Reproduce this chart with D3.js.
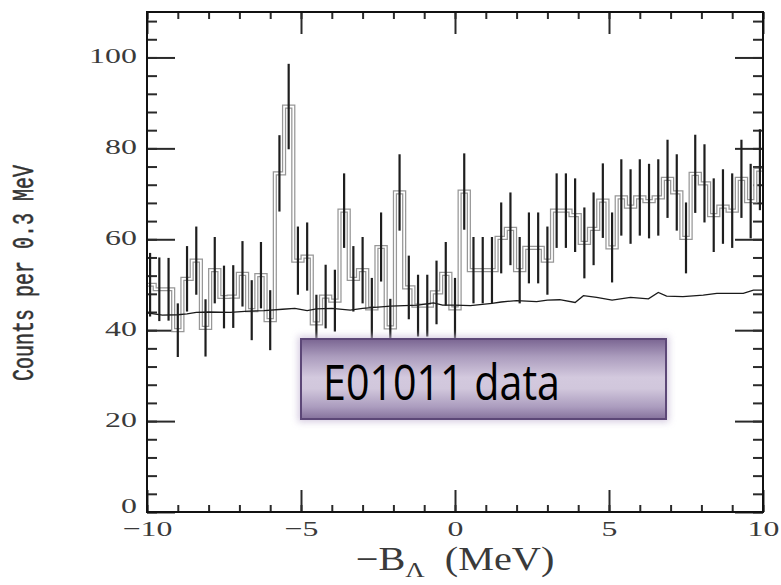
<!DOCTYPE html>
<html>
<head>
<meta charset="utf-8">
<script src="https://cdn.jsdelivr.net/npm/d3@7/dist/d3.min.js"></script>
<style>
  html, body { margin: 0; padding: 0; background: #ffffff; }
  svg { display: block; }
</style>
</head>
<body>
<svg id="chart" width="781" height="585"></svg>
<script>
// Counts per 0.3 MeV bin, bins centred from -9.9 to 9.9 MeV
const binWidth = 0.3;
const firstCenter = -9.9;
const counts = [
  50.0, 49.0, 49.0, 40.0, 51.3, 55.3, 40.5, 53.2, 47.3, 47.4,
  52.4, 44.4, 52.1, 42.2, 74.5, 89.2, 55.3, 56.2, 41.5, 47.4,
  46.5, 66.3, 51.3, 53.2, 44.8, 58.3, 40.6, 70.3, 49.4, 45.4,
  45.4, 48.3, 52.4, 44.8, 70.5, 53.2, 53.2, 53.2, 60.3, 62.3,
  53.2, 58.1, 58.1, 55.3, 66.3, 66.3, 65.3, 59.2, 62.3, 68.5,
  58.2, 69.2, 67.2, 69.2, 68.4, 69.2, 73.3, 70.3, 60.3, 74.4,
  72.3, 65.3, 67.2, 66.3, 73.3, 68.4, 75.3
];
const errors = [
  7.0, 7.0, 6.9, 5.9, 7.2, 7.5, 6.3, 7.3, 6.9, 6.9,
  7.2, 6.6, 7.3, 6.6, 8.4, 9.4, 7.5, 7.5, 6.3, 7.0,
  6.8, 8.2, 7.2, 7.3, 6.7, 7.6, 6.3, 8.4, 7.0, 6.8,
  6.8, 7.0, 7.0, 6.7, 8.4, 7.3, 7.3, 7.3, 7.8, 8.0,
  7.3, 7.8, 7.8, 7.5, 8.2, 8.2, 8.1, 7.8, 8.0, 8.2,
  7.7, 8.4, 8.2, 8.4, 8.2, 8.4, 8.6, 8.4, 7.8, 8.6,
  8.6, 8.1, 8.2, 8.2, 8.6, 8.2, 8.9
];
// Accidental background estimate
const bgX = [-10, -9.5, -9.0, -8.7, -8.4, -8.0, -7.3, -6.7, -6.2, -5.6,
  -5.2, -4.8, -4.5, -4.0, -3.4, -3.0, -2.1, -1.2, -0.7, -0.4,
  0.0, 0.5, 1.2, 1.5, 2.0, 2.65, 3.0, 3.4, 3.9, 4.17,
  4.6, 5.1, 5.7, 6.28, 6.6, 6.87, 7.4, 8.06, 8.5, 9.36, 9.69, 10];
const bgY = [43.8, 43.3, 43.4, 43.6, 43.9, 44.0, 43.9, 44.2, 44.3, 44.6,
  44.8, 44.3, 44.7, 44.8, 44.4, 44.8, 45.3, 45.5, 46.0, 45.5,
  45.5, 45.4, 45.9, 46.2, 46.5, 46.3, 46.6, 46.7, 46.1, 47.6,
  47.2, 46.6, 47.2, 46.9, 48.3, 47.5, 47.4, 47.7, 48.1, 48.1, 48.8, 48.8];

const xTickLabels = [-10, -5, 0, 5, 10];
const xMinorTicks = d3.range(-10, 11, 1);
const yTickLabels = [0, 20, 40, 60, 80, 100];
const yMinorTicks = d3.range(0, 111, 4);
const yTitle = "Counts per 0.3 MeV";
const noteText = "E01011 data";

const svg = d3.select("#chart");
const x = d3.scaleLinear().domain([-10, 10]).range([147, 763]);
const y = d3.scaleLinear().domain([0, 110]).range([512, 12]);
const [x0, x1] = x.range();
const [yb, yt] = y.range();

const bins = counts.map((v, i) => ({
  c: firstCenter + i * binWidth, v: v, e: errors[i]
}));

const defs = svg.append("defs");
defs.append("clipPath").attr("id", "plotClip")
  .append("rect").attr("x", x0).attr("y", yt).attr("width", x1 - x0).attr("height", yb - yt);

const fmt = d => (d < 0 ? "\u2212" + Math.abs(d) : String(d));
const stretch = 1.45;
const labelFont = "'Liberation Serif', 'DejaVu Serif', serif";

// ---- ticks ----
function styleTicks(g, w) {
  g.select(".domain").remove();
  g.selectAll(".tick line").attr("stroke", "#2a2a2a").attr("stroke-width", w);
}
// bottom
svg.append("g").attr("transform", `translate(0,${yb})`)
  .call(d3.axisBottom(x).tickValues(xMinorTicks).tickSizeInner(-7).tickSizeOuter(0).tickFormat(""))
  .call(g => styleTicks(g, 2));
const xAxisG = svg.append("g").attr("transform", `translate(0,${yb})`)
  .call(d3.axisBottom(x).tickValues(xTickLabels).tickSizeInner(-22).tickSizeOuter(0).tickPadding(9).tickFormat(fmt))
  .call(g => styleTicks(g, 2));
xAxisG.selectAll(".tick text")
  .attr("font-family", labelFont)
  .attr("font-size", 21.5).attr("fill", "#3a3a3a")
  .attr("transform", `scale(${stretch * 1.02},1)`);
// top
svg.append("g").attr("transform", `translate(0,${yt})`)
  .call(d3.axisBottom(x).tickValues(xMinorTicks).tickSizeInner(7).tickSizeOuter(0).tickFormat(""))
  .call(g => styleTicks(g, 2));
svg.append("g").attr("transform", `translate(0,${yt})`)
  .call(d3.axisBottom(x).tickValues(xTickLabels).tickSizeInner(22).tickSizeOuter(0).tickFormat(""))
  .call(g => styleTicks(g, 2));
// left
svg.append("g").attr("transform", `translate(${x0},0)`)
  .call(d3.axisLeft(y).tickValues(yMinorTicks).tickSizeInner(-10).tickSizeOuter(0).tickFormat(""))
  .call(g => styleTicks(g, 2));
const yAxisG = svg.append("g").attr("transform", `translate(${x0},0)`)
  .call(d3.axisLeft(y).tickValues(yTickLabels).tickSizeInner(-28).tickSizeOuter(0).tickPadding(7).tickFormat(fmt))
  .call(g => styleTicks(g, 2));
yAxisG.selectAll(".tick text")
  .attr("font-family", labelFont)
  .attr("font-size", 22).attr("fill", "#3a3a3a")
  .attr("dy", d => (d === 0 ? "0.02em" : "0.24em"))
  .attr("transform", `scale(${stretch},1)`);
// right
svg.append("g").attr("transform", `translate(${x1},0)`)
  .call(d3.axisLeft(y).tickValues(yMinorTicks).tickSizeInner(10).tickSizeOuter(0).tickFormat(""))
  .call(g => styleTicks(g, 2));
svg.append("g").attr("transform", `translate(${x1},0)`)
  .call(d3.axisLeft(y).tickValues(yTickLabels).tickSizeInner(28).tickSizeOuter(0).tickFormat(""))
  .call(g => styleTicks(g, 2));

// ---- data ----
const plot = svg.append("g").attr("clip-path", "url(#plotClip)");

const stepPts = bins.map(b => [b.c - binWidth / 2, b.v]);
stepPts.push([bins[bins.length - 1].c + binWidth / 2, bins[bins.length - 1].v]);
const stepLine = d3.line().x(d => x(d[0])).y(d => y(d[1])).curve(d3.curveStepAfter);

plot.append("path").attr("d", stepLine(stepPts))
  .attr("fill", "none").attr("stroke", "#979797").attr("stroke-width", 4.2);
plot.append("path").attr("d", stepLine(stepPts))
  .attr("fill", "none").attr("stroke", "#ffffff").attr("stroke-width", 1.7);

plot.append("path")
  .attr("d", d3.line().x((d, i) => x(bgX[i])).y(d => y(d))(bgY))
  .attr("fill", "none").attr("stroke", "#1a1a1a").attr("stroke-width", 1.3);

plot.selectAll("line.err").data(bins).join("line")
  .attr("class", "err")
  .attr("x1", d => x(d.c)).attr("x2", d => x(d.c))
  .attr("y1", d => y(d.v - d.e)).attr("y2", d => y(d.v + d.e))
  .attr("stroke", "#1e1e1e").attr("stroke-width", 2.2);

// ---- frame ----
svg.append("rect").attr("x", x0).attr("y", yt).attr("width", x1 - x0).attr("height", yb - yt)
  .attr("fill", "none").attr("stroke", "#111").attr("stroke-width", 2);

// ---- axis titles ----
svg.append("text")
  .attr("transform", "translate(33,273) rotate(-90) scale(1,1.5)")
  .attr("text-anchor", "middle")
  .attr("font-family", "'Liberation Mono', 'DejaVu Sans Mono', monospace")
  .attr("font-size", 20).attr("fill", "#333")
  .attr("stroke", "#333").attr("stroke-width", 0.35)
  .text(yTitle);

const xt = svg.append("text")
  .attr("transform", "translate(455,570) scale(1.22,1)")
  .attr("text-anchor", "middle")
  .attr("font-family", labelFont)
  .attr("font-size", 33).attr("fill", "#3a3a3a");
xt.append("tspan").text("\u2212B");
xt.append("tspan").attr("font-size", 22).attr("dy", 7).text("\u039B");
xt.append("tspan").attr("dy", -7).text("\u00A0\u00A0(MeV)");

// ---- annotation box ----
const grad = defs.append("linearGradient").attr("id", "boxFill")
  .attr("x1", 0).attr("y1", 0).attr("x2", 0).attr("y2", 1);
[["0%", "#7a6592"], ["22%", "#ab9cbd"], ["48%", "#d3c9de"], ["62%", "#d1c7dc"], ["85%", "#ab9cbe"], ["100%", "#85729c"]]
  .forEach(([o, c]) => grad.append("stop").attr("offset", o).attr("stop-color", c));
const glow = defs.append("filter").attr("id", "glow")
  .attr("x", "-10%").attr("y", "-30%").attr("width", "120%").attr("height", "160%");
glow.append("feGaussianBlur").attr("stdDeviation", 3.5);

const bx = 301, by = 339, bw = 365, bh = 80;
svg.append("rect").attr("x", bx - 3).attr("y", by - 3).attr("width", bw + 6).attr("height", bh + 6)
  .attr("fill", "#cbbfd9").attr("opacity", 0.8).attr("filter", "url(#glow)");
svg.append("rect").attr("x", bx).attr("y", by).attr("width", bw).attr("height", bh)
  .attr("fill", "url(#boxFill)").attr("stroke", "#5c4777").attr("stroke-width", 2);
svg.append("text")
  .attr("x", 323).attr("y", 400)
  .attr("font-family", "'Open Sans', 'Noto Sans', sans-serif")
  .attr("font-size", 49).attr("fill", "#000")
  .attr("textLength", 237).attr("lengthAdjust", "spacingAndGlyphs")
  .text(noteText);
</script>
</body>
</html>
